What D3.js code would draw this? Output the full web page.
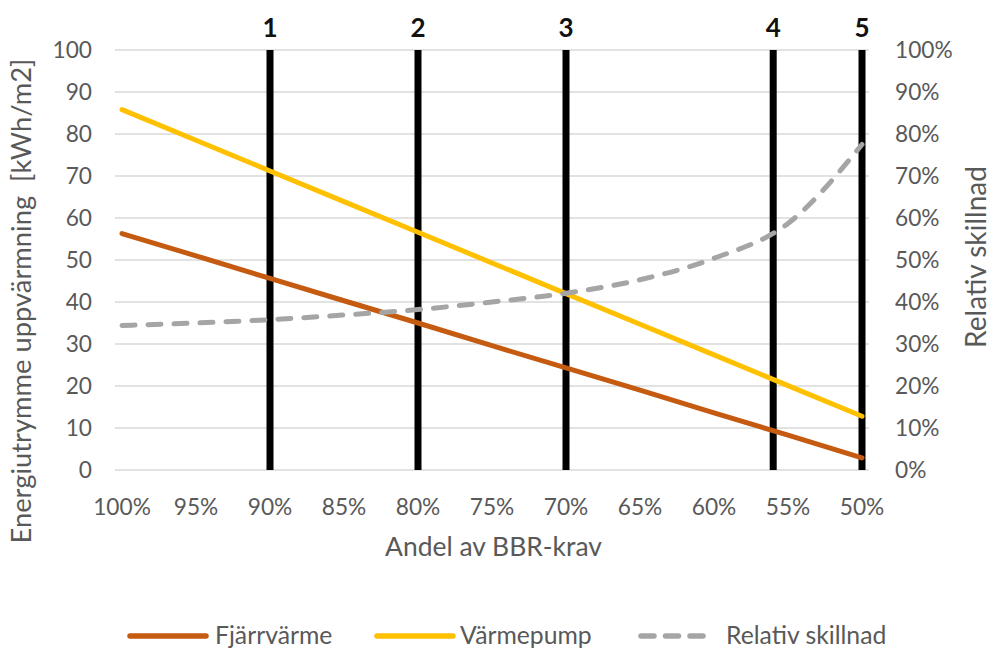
<!DOCTYPE html>
<html><head><meta charset="utf-8">
<script src="https://cdn.jsdelivr.net/npm/d3@7"></script>
<style>body{margin:0;background:#fff}svg{display:block}text{font-family:Lato,"Open Sans",sans-serif}</style>
</head><body><svg id="c" width="993" height="648"></svg>
<script>
const shares = [1.00,0.95,0.90,0.85,0.80,0.75,0.70,0.65,0.60,0.55,0.50];
const fjarrvarme = [56.3,51.0,45.6,40.3,35.0,29.6,24.3,19.0,13.6,8.3,2.9];
const varmepump = [85.8,78.5,71.2,63.9,56.6,49.3,42.0,34.7,27.4,20.1,12.8];
const relativ = [0.344,0.350,0.358,0.369,0.382,0.400,0.421,0.453,0.504,0.587,0.775];
const markers = [{label:"1",share:0.90},{label:"2",share:0.80},{label:"3",share:0.70},{label:"4",share:0.56},{label:"5",share:0.50}];
const leftTicks = [0,10,20,30,40,50,60,70,80,90,100];
const rightTicks = [0,0.1,0.2,0.3,0.4,0.5,0.6,0.7,0.8,0.9,1.0];
const seriesNames = ["Fjärrvärme","Värmepump","Relativ skillnad"];
const leftTitle = "Energiutrymme uppvärmning\u00a0 [kWh/m2]";
const rightTitle = "Relativ skillnad";
const xTitle = "Andel av BBR-krav";

const svg = d3.select("#c");
const x = d3.scaleLinear().domain([1.0,0.5]).range([122,862]);
const yL = d3.scaleLinear().domain([0,100]).range([470,50]);
const yR = d3.scaleLinear().domain([0,1]).range([470,50]);
const grey = "#595959";

function sizeFor(str, width, weight){
  const t = svg.append("text").attr("font-size",100).attr("font-weight",weight||"normal").text(str);
  const w = t.node().getComputedTextLength(); t.remove();
  return 100*width/w;
}
const tickSize = (sizeFor("100",40)+sizeFor("100%",57))/2;

// grid
svg.append("g").selectAll("line").data(leftTicks).join("line")
  .attr("x1",115).attr("x2",869).attr("y1",d=>yL(d)).attr("y2",d=>yL(d))
  .attr("stroke","#d9d9d9").attr("stroke-width",1.3);

svg.append("g").selectAll("text").data(leftTicks).join("text")
  .attr("x",92).attr("y",d=>yL(d)).attr("dy","0.36em").attr("text-anchor","end")
  .attr("font-size",tickSize).attr("fill",grey).text(d=>d);
svg.append("g").selectAll("text").data(rightTicks).join("text")
  .attr("x",895).attr("y",d=>yR(d)).attr("dy","0.36em").attr("text-anchor","start")
  .attr("font-size",tickSize).attr("fill",grey).text(d=>d3.format(".0%")(d));
svg.append("g").selectAll("text").data(shares).join("text")
  .attr("x",d=>x(d)).attr("y",515).attr("text-anchor","middle")
  .attr("font-size",tickSize).attr("fill",grey).text(d=>d3.format(".0%")(d));

svg.append("text").attr("transform","translate(31,301) rotate(-90)").attr("text-anchor","middle")
  .attr("font-size",sizeFor(leftTitle,485)).attr("fill",grey).text(leftTitle);
svg.append("text").attr("transform","translate(986,257) rotate(-90)").attr("text-anchor","middle")
  .attr("font-size",sizeFor(rightTitle,182)).attr("fill",grey).text(rightTitle);
svg.append("text").attr("x",493.5).attr("y",556).attr("text-anchor","middle")
  .attr("font-size",sizeFor(xTitle,217)).attr("fill",grey).text(xTitle);

const mg = svg.append("g");
mg.selectAll("line").data(markers).join("line")
  .attr("x1",d=>x(d.share)).attr("x2",d=>x(d.share)).attr("y1",yL(100)).attr("y2",yL(0))
  .attr("stroke","#000").attr("stroke-width",7);
mg.selectAll("text").data(markers).join("text")
  .attr("x",d=>x(d.share)).attr("y",28).attr("dy","0.36em").attr("text-anchor","middle")
  .attr("font-size",26).attr("font-weight","bold").attr("fill","#111").text(d=>d.label);

const lineL = d3.line().x((d,i)=>x(shares[i])).y(d=>yL(d));
const lineR = d3.line().x((d,i)=>x(shares[i])).y(d=>yR(d)).curve(d3.curveMonotoneX);
svg.append("path").datum(fjarrvarme).attr("d",lineL).attr("fill","none")
  .attr("stroke","#C55A11").attr("stroke-width",5).attr("stroke-linecap","round");
svg.append("path").datum(varmepump).attr("d",lineL).attr("fill","none")
  .attr("stroke","#FFC000").attr("stroke-width",5).attr("stroke-linecap","round");
svg.append("path").datum(relativ).attr("d",lineR).attr("fill","none")
  .attr("stroke","#A5A5A5").attr("stroke-width",5).attr("stroke-dasharray","13,13").attr("stroke-linecap","round");

const leg = [
  {name:seriesNames[0],color:"#C55A11",dash:null,x1:130,x2:206,tx:215,w:117},
  {name:seriesNames[1],color:"#FFC000",dash:null,x1:377,x2:453,tx:460,w:135},
  {name:seriesNames[2],color:"#A5A5A5",dash:"13,11.5",x1:641,x2:708,tx:726,w:157}
];
const legSize = d3.mean(leg, l=>sizeFor(l.name,l.w));
const lg = svg.append("g");
leg.forEach(l=>{
  lg.append("line").attr("x1",l.x1).attr("x2",l.x2).attr("y1",636).attr("y2",636)
    .attr("stroke",l.color).attr("stroke-width",5.5).attr("stroke-linecap","round")
    .attr("stroke-dasharray",l.dash);
  lg.append("text").attr("x",l.tx).attr("y",644)
    .attr("font-size",legSize).attr("fill",grey).text(l.name);
});
</script></body></html>
